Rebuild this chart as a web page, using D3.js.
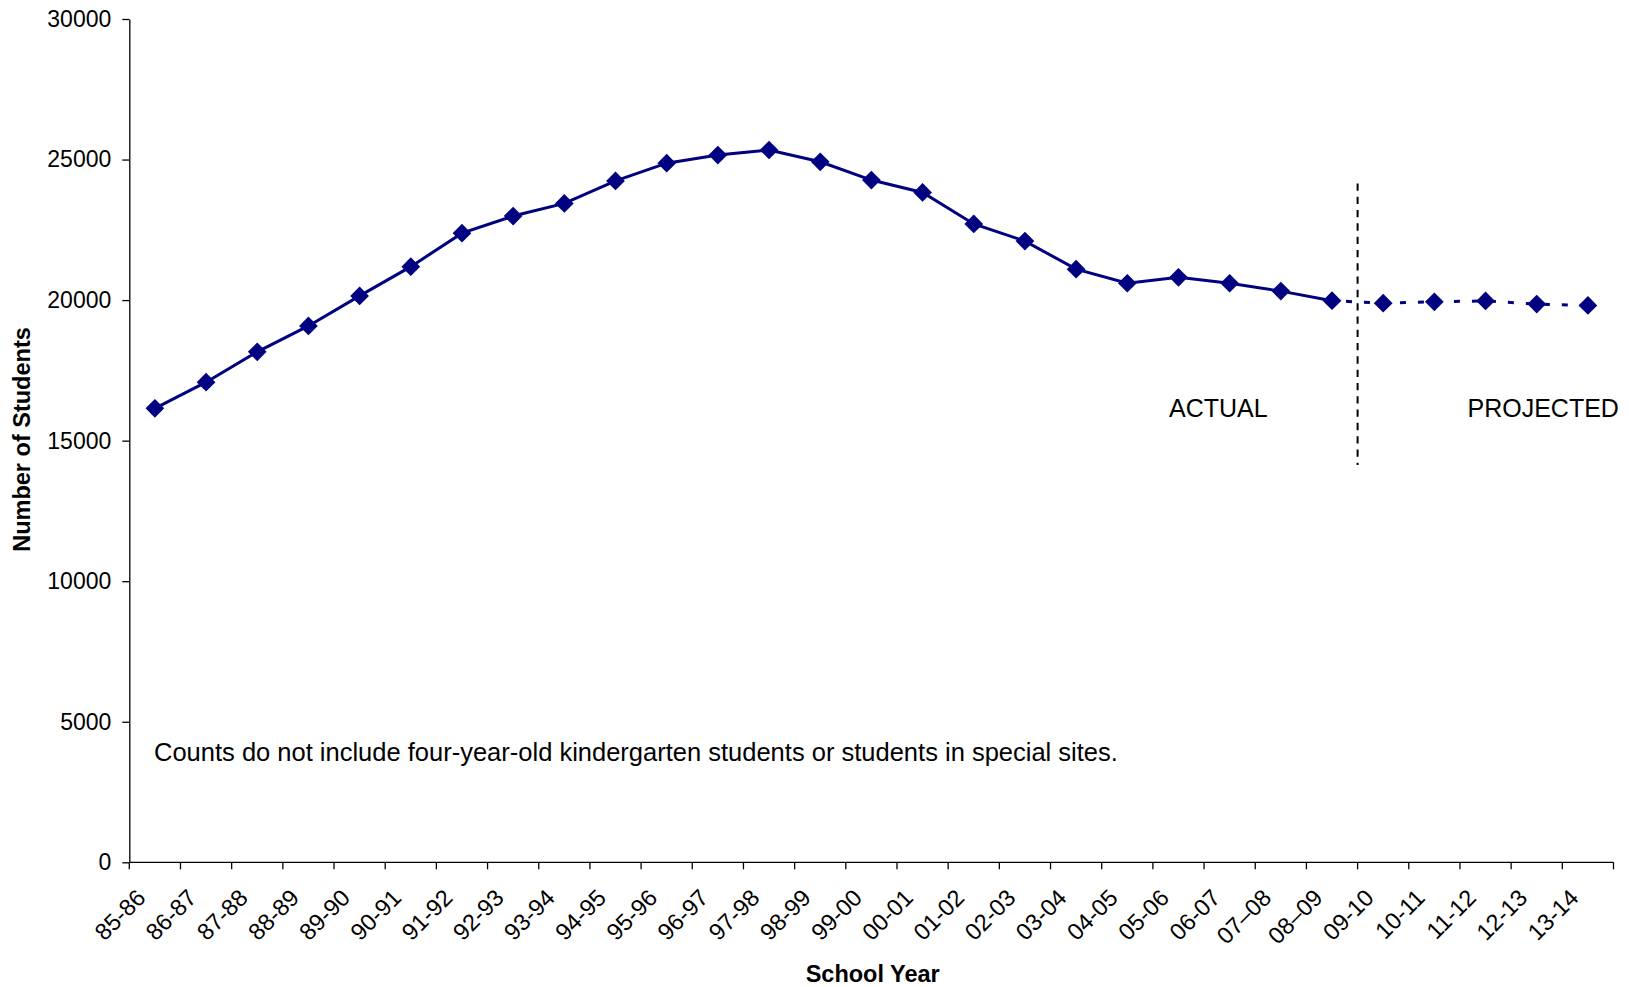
<!DOCTYPE html>
<html>
<head>
<meta charset="utf-8">
<script src="https://cdn.jsdelivr.net/npm/d3@7"></script>
<style>
  body { margin: 0; background: #fff; }
  text { font-family: "Liberation Sans", Arial, Helvetica, sans-serif; fill: #000; }
</style>
</head>
<body>
<svg id="chart"></svg>
<script>
const years = ["85-86", "86-87", "87-88", "88-89", "89-90", "90-91", "91-92", "92-93",
               "93-94", "94-95", "95-96", "96-97", "97-98", "98-99", "99-00", "00-01",
               "01-02", "02-03", "03-04", "04-05", "05-06", "06-07", "07\u201308", "08\u201309",
               "09-10", "10-11", "11-12", "12-13", "13-14"];

// enrolment, actual through 08-09
const actual = [16150, 17080, 18160, 19080, 20150, 21190, 22380, 22990,
                23440, 24240, 24870, 25160, 25340, 24920, 24270, 23830,
                22710, 22100, 21100, 20600, 20810, 20600, 20320, 19980];

// projected from 08-09 onward (first value repeats the last actual)
const projectedYears = ["08\u201309", "09-10", "10-11", "11-12", "12-13", "13-14"];
const projected = [19980, 19890, 19940, 19970, 19860, 19810];

const yTicks = [0, 5000, 10000, 15000, 20000, 25000, 30000];

const width = 1629;
const height = 987;
const margin = {top: 19, right: 15.5, bottom: 124.7, left: 129.3};

const svg = d3.select("#chart")
              .attr("width", width)
              .attr("height", height);

const x = d3.scaleBand()
            .domain(years)
            .range([margin.left, width - margin.right])
            .padding(0);

const y = d3.scaleLinear()
            .domain([0, 30000])
            .range([height - margin.bottom, margin.top]);

const xc = d => x(d) + x.bandwidth() / 2;
const navy = "#000080";

// y axis
const yAxis = svg.append("g")
                 .attr("transform", "translate(" + margin.left + ",0)")
                 .call(d3.axisLeft(y).tickValues(yTicks).tickFormat(d3.format("d"))
                         .tickSize(7).tickPadding(11).tickSizeOuter(0));
yAxis.select(".domain").attr("stroke", "#000").attr("stroke-width", 1.3);
yAxis.selectAll(".tick line").attr("stroke", "#000").attr("stroke-width", 1.3);
yAxis.selectAll(".tick text")
     .style("font-size", "23px")
     .attr("fill", "#000");

// x axis: line, ticks at category boundaries, rotated labels
const xBase = y(0);
svg.append("line")
   .attr("x1", margin.left).attr("x2", width - margin.right)
   .attr("y1", xBase).attr("y2", xBase)
   .attr("stroke", "#000").attr("stroke-width", 1.3);

const bounds = years.map(d => x(d)).concat([x.range()[1]]);
svg.append("g")
   .selectAll("line")
   .data(bounds)
   .enter()
   .append("line")
   .attr("x1", d => d).attr("x2", d => d)
   .attr("y1", xBase).attr("y2", xBase + 7)
   .attr("stroke", "#000").attr("stroke-width", 1.3);

svg.append("g")
   .selectAll("text")
   .data(years)
   .enter()
   .append("text")
   .attr("transform", d => "translate(" + (xc(d) - 8) + "," + (xBase + 37) + ") rotate(-45)")
   .attr("text-anchor", "end")
   .style("font-size", "23.5px")
   .text(d => d);

// axis titles
svg.append("text")
   .attr("transform", "translate(30," + 439.5 + ") rotate(-90)")
   .attr("text-anchor", "middle")
   .style("font-size", "23.5px")
   .style("font-weight", "bold")
   .text("Number of Students");

svg.append("text")
   .attr("x", 872.7)
   .attr("y", 982)
   .attr("text-anchor", "middle")
   .style("font-size", "23.5px")
   .style("font-weight", "bold")
   .text("School Year");

// divider between actual and projected
const splitX = x("09-10");
svg.append("line")
   .attr("x1", splitX).attr("x2", splitX)
   .attr("y1", y(24150)).attr("y2", y(14130))
   .attr("stroke", "#000")
   .attr("stroke-width", 2)
   .attr("stroke-dasharray", "7.3,6");

// lines
const actualPts = actual.map((v, i) => [xc(years[i]), y(v)]);
const projPts = projected.map((v, i) => [xc(projectedYears[i]), y(v)]);

svg.append("path")
   .attr("d", d3.line()(actualPts))
   .attr("fill", "none")
   .attr("stroke", navy)
   .attr("stroke-width", 3);

svg.append("path")
   .attr("d", d3.line()(projPts))
   .attr("fill", "none")
   .attr("stroke", navy)
   .attr("stroke-width", 3)
   .attr("stroke-dasharray", "6,12")
   .attr("stroke-dashoffset", -14);

// diamond markers
const diamond = d3.symbol().type(d3.symbolSquare).size(175);
svg.append("g")
   .selectAll("path")
   .data(actualPts.concat(projPts.slice(1)))
   .enter()
   .append("path")
   .attr("d", diamond)
   .attr("transform", d => "translate(" + d[0] + "," + d[1] + ") rotate(45)")
   .attr("fill", navy);

// annotations
svg.append("text")
   .attr("x", 1169)
   .attr("y", 416.7)
   .style("font-size", "25px")
   .text("ACTUAL");

svg.append("text")
   .attr("x", 1467.5)
   .attr("y", 416.7)
   .style("font-size", "25px")
   .text("PROJECTED");

svg.append("text")
   .attr("x", 154)
   .attr("y", 761)
   .style("font-size", "25.5px")
   .text("Counts do not include four-year-old kindergarten students or students in special sites.");
</script>
</body>
</html>
